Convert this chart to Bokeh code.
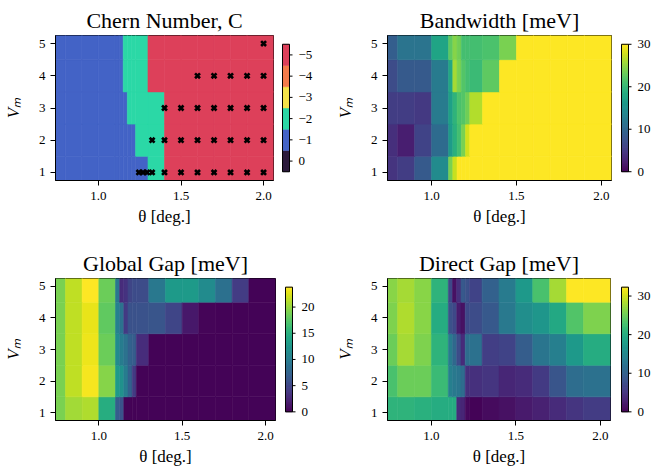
from bokeh.plotting import figure
from bokeh.models import Range1d, FixedTicker, ColumnDataSource, LinearColorMapper, PrintfTickFormatter
from bokeh.transform import transform
from bokeh.palettes import Viridis256
from bokeh.layouts import row, column
from bokeh.core.properties import value
from bokeh.embed import file_html
from bokeh.resources import INLINE

FONT = "Liberation Serif"

# ---------------- data ----------------
theta_edges = [0.70, 0.80, 0.90, 1.00, 1.10, 1.125, 1.15, 1.175, 1.20, 1.225,
               1.30, 1.40, 1.50, 1.60, 1.70, 1.80, 1.90, 2.10]
V_levels = [1, 2, 3, 4, 5]
x_ticks = [1.0, 1.5, 2.0]
y_ticks = [1, 2, 3, 4, 5]

chern_C = [
    [-1, -1, -1, -1, -1, -1, -1, -1, -1, -1, -2, -5, -5, -5, -5, -5, -5],
    [-1, -1, -1, -1, -1, -1, -1, -1, -1, -2, -2, -5, -5, -5, -5, -5, -5],
    [-1, -1, -1, -1, -1, -1, -1, -2, -2, -2, -2, -5, -5, -5, -5, -5, -5],
    [-1, -1, -1, -1, -1, -1, -2, -2, -2, -2, -5, -5, -5, -5, -5, -5, -5],
    [-1, -1, -1, -1, -1, -1, -2, -2, -2, -2, -5, -5, -5, -5, -5, -5, -5],
]
chern_levels = [0, -1, -2, -3, -4, -5]
chern_colors = ["#2b1a3b", "#4363c6", "#2bd8a6", "#f4e34a", "#f47b4b", "#dd405a"]

marker_theta = [1.245, 1.27, 1.295, 1.325, 1.4, 1.5, 1.6, 1.7, 1.8, 1.9, 2.0,
                1.325, 1.4, 1.5, 1.6, 1.7, 1.8, 1.9, 2.0,
                1.4, 1.5, 1.6, 1.7, 1.8, 1.9, 2.0,
                1.6, 1.7, 1.8, 1.9, 2.0,
                2.0]
marker_V = [1, 1, 1, 1, 1, 1, 1, 1, 1, 1, 1,
            2, 2, 2, 2, 2, 2, 2, 2,
            3, 3, 3, 3, 3, 3, 3,
            4, 4, 4, 4, 4,
            5]

bandwidth = [
    [4.5, 5.5, 8.5, 14.5, 24.0, 27.5, 30, 30, 30, 30, 30, 30, 30, 30, 30, 30, 30],
    [4.0, 2.5, 6.0, 10.5, 16.5, 19.0, 21.0, 24.0, 28.0, 30, 30, 30, 30, 30, 30, 30, 30],
    [5.5, 5.5, 5.0, 12.5, 17.0, 19.5, 21.5, 22.0, 23.5, 26.5, 30, 30, 30, 30, 30, 30, 30],
    [7.0, 8.5, 8.5, 12.5, 18.0, 26.0, 24.0, 22.0, 21.0, 20.5, 22.5, 30, 30, 30, 30, 30, 30],
    [9.0, 11.5, 11.5, 17.5, 22.5, 24.5, 23.5, 21.0, 21.0, 21.0, 21.5, 24.0, 30, 30, 30, 30, 30],
]
bandwidth_max = 30
bandwidth_ticks = [0, 10, 20, 30]

global_gap = [
    [19.0, 20.5, 21.0, 14.8, 7.0, 6.0, 0.2, 0.2, 0.2, 0.2, 0.2, 0.2, 0.2, 0.2, 0.2, 0.2, 0.2],
    [19.0, 21.5, 23.5, 19.5, 13.0, 12.0, 10.0, 7.5, 4.0, 0.2, 0.2, 0.2, 0.2, 0.2, 0.2, 0.2, 0.2],
    [19.0, 21.5, 23.2, 18.5, 11.5, 10.0, 9.0, 7.5, 7.0, 3.0, 0.2, 0.2, 0.2, 0.2, 0.2, 0.2, 0.2],
    [19.0, 21.5, 23.0, 18.0, 10.5, 9.0, 4.0, 6.0, 6.0, 6.0, 6.3, 5.0, 1.5, 0.3, 0.2, 0.2, 0.2],
    [19.0, 21.5, 23.8, 18.5, 9.5, 3.0, 3.5, 5.0, 5.5, 5.5, 9.5, 13.0, 13.0, 11.5, 8.8, 4.2, 0.2],
]
global_ticks = [0, 5, 10, 15, 20]

direct_gap = [
    [21.0, 21.0, 20.5, 20.0, 20.0, 20.0, 4.0, 3.5, 0.8, 0.3, 1.0, 1.5, 2.3, 3.0, 4.0, 5.0, 5.8],
    [23.0, 25.0, 25.0, 22.0, 14.0, 13.0, 12.5, 11.5, 4.5, 4.5, 5.0, 3.5, 4.0, 5.5, 8.5, 11.5, 12.0],
    [25.0, 28.0, 26.0, 21.0, 13.5, 11.0, 7.5, 4.0, 11.5, 12.0, 6.0, 6.5, 9.5, 12.5, 14.0, 17.5, 20.0],
    [26.0, 28.5, 26.5, 20.0, 8.0, 7.0, 2.5, 1.5, 7.0, 7.5, 9.0, 13.0, 16.0, 17.0, 19.5, 23.5, 26.0],
    [26.5, 28.0, 26.5, 21.0, 7.0, 1.5, 4.5, 9.0, 8.0, 6.5, 10.0, 13.5, 17.5, 23.0, 28.0, 32.3, 32.3],
]
direct_ticks = [0, 10, 20, 30]


# ---------------- helpers ----------------
def cells(vals):
    L, R, B, T, Z = [], [], [], [], []
    for i, v in enumerate(V_levels):
        for j in range(len(theta_edges) - 1):
            L.append(theta_edges[j]); R.append(theta_edges[j + 1])
            B.append(v - 0.5); T.append(v + 0.5); Z.append(vals[i][j])
    return ColumnDataSource(dict(left=L, right=R, bottom=B, top=T, z=Z))


def heat_fig(title, w, h, bl, br, bt, bb):
    p = figure(width=w, height=h, x_range=Range1d(0.74, 2.06), y_range=Range1d(0.75, 5.25),
               output_backend="svg", toolbar_location=None,
               min_border_left=bl, min_border_right=br, min_border_top=bt, min_border_bottom=bb)
    p.title.text = title
    p.title.text_font = FONT
    p.title.text_font_size = "22px"
    p.title.text_font_style = "normal"
    p.title.text_color = "black"
    p.title.align = "center"
    p.title.standoff = 6
    p.grid.visible = False
    p.outline_line_color = "black"
    p.outline_line_alpha = 1.0
    p.outline_line_width = 1
    p.xaxis.ticker = FixedTicker(ticks=x_ticks)
    p.xaxis.formatter = PrintfTickFormatter(format="%.1f")
    p.yaxis.ticker = FixedTicker(ticks=y_ticks)
    p.xaxis.axis_label = "θ [deg.]"
    p.yaxis.axis_label = "Vₘ"
    for ax in (p.xaxis[0], p.yaxis[0]):
        ax.axis_line_color = "black"
        ax.major_tick_line_color = "black"
        ax.major_tick_out = 5
        ax.major_tick_in = 0
        ax.minor_tick_line_color = None
        ax.major_label_text_font = FONT
        ax.major_label_text_font_size = "13px"
        ax.major_label_text_color = "black"
        ax.major_label_standoff = 5
        ax.axis_label_text_font = FONT
        ax.axis_label_text_font_size = "17px"
        ax.axis_label_text_font_style = "normal"
        ax.axis_label_text_color = "black"
    p.xaxis.major_label_standoff = 6
    p.xaxis.axis_label_standoff = 4
    p.yaxis.axis_label_standoff = 13
    p.yaxis.axis_label_text_font_style = "italic"
    return p


def cbar_fig(w, h, bt, bb, off, bottom_val, top_val, seg_b, seg_t, seg_c, ticks, labels):
    pad = 10
    bar_px = h - bt - bb
    u = (top_val - bottom_val) / bar_px
    p = figure(width=w, height=h, output_backend="svg", toolbar_location=None,
               x_range=Range1d(-off / 7.0, (w - off) / 7.0),
               y_range=Range1d(bottom_val - pad * u, top_val + pad * u),
               x_axis_location=None, y_axis_location=None,
               min_border_left=0, min_border_right=0,
               min_border_top=bt - pad, min_border_bottom=bb - pad)
    p.grid.visible = False
    p.outline_line_color = None
    src = ColumnDataSource(dict(b=seg_b, t=seg_t, c=seg_c))
    p.quad(left=0, right=1, bottom="b", top="t", fill_color="c", line_color="c",
           line_width=0.5, source=src)
    p.quad(left=0, right=1, bottom=bottom_val, top=top_val, fill_color=None,
           line_color="black", line_width=1)
    p.segment(x0=1, x1=1 + 3 / 7.0, y0=ticks, y1=ticks, line_color="black", line_width=1)
    p.text(x=[1 + 9 / 7.0] * len(ticks), y=ticks, text=labels,
           text_font=value(FONT), text_font_size=value("13px"), text_color="black",
           text_baseline="middle", text_align="left")
    return p


def viridis_segments(vmax):
    n = len(Viridis256)
    b = [vmax * i / n for i in range(n)]
    t = [vmax * (i + 1) / n for i in range(n)]
    return b, t, list(Viridis256)


def num_labels(ticks):
    return [str(t).replace("-", "\u2212") for t in ticks]


# ---------------- layout geometry ----------------
TOP_H, BOT_H = 236, 232
TOP_BT, TOP_BB = 35, 56
BOT_BT, BOT_BB = 42, 46

# Chern
p1 = heat_fig("Chern Number, C", 281, TOP_H, 51, 8, TOP_BT, TOP_BB)
chern_mapper = LinearColorMapper(palette=list(reversed(chern_colors)),
                                 low=min(chern_levels) - 0.5, high=max(chern_levels) + 0.5)
p1.quad(left="left", right="right", bottom="bottom", top="top", source=cells(chern_C),
        fill_color=transform("z", chern_mapper), line_color=transform("z", chern_mapper),
        line_width=0.6)
p1.scatter(x=marker_theta, y=marker_V, marker="x", size=7, line_width=2.6, line_color="black")
cb1 = cbar_fig(49, TOP_H, TOP_BT, TOP_BB, 1, max(chern_levels) + 0.5, min(chern_levels) - 0.5,
               [c - 0.5 for c in chern_levels], [c + 0.5 for c in chern_levels], chern_colors,
               chern_levels, num_labels(chern_levels))

# Bandwidth
p2 = heat_fig("Bandwidth [meV]", 290, TOP_H, 57, 9, TOP_BT, TOP_BB)
bw_mapper = LinearColorMapper(palette=Viridis256, low=0, high=bandwidth_max)
p2.quad(left="left", right="right", bottom="bottom", top="top", source=cells(bandwidth),
        fill_color=transform("z", bw_mapper), line_color=transform("z", bw_mapper), line_width=0.6)
b, t, c = viridis_segments(bandwidth_max)
cb2 = cbar_fig(35, TOP_H, TOP_BT, TOP_BB, 1, 0, bandwidth_max, b, t, c,
               bandwidth_ticks, num_labels(bandwidth_ticks))

# Global gap
gmax = max(max(r) for r in global_gap)
p3 = heat_fig("Global Gap [meV]", 284, BOT_H, 52, 9, BOT_BT, BOT_BB)
gg_mapper = LinearColorMapper(palette=Viridis256, low=0, high=gmax)
p3.quad(left="left", right="right", bottom="bottom", top="top", source=cells(global_gap),
        fill_color=transform("z", gg_mapper), line_color=transform("z", gg_mapper), line_width=0.6)
b, t, c = viridis_segments(gmax)
cb3 = cbar_fig(46, BOT_H, BOT_BT, BOT_BB, 1, 0, gmax, b, t, c, global_ticks, num_labels(global_ticks))

# Direct gap
dmax = max(max(r) for r in direct_gap)
p4 = heat_fig("Direct Gap [meV]", 290, BOT_H, 57, 10, BOT_BT, BOT_BB)
dg_mapper = LinearColorMapper(palette=Viridis256, low=0, high=dmax)
p4.quad(left="left", right="right", bottom="bottom", top="top", source=cells(direct_gap),
        fill_color=transform("z", dg_mapper), line_color=transform("z", dg_mapper), line_width=0.6)
b, t, c = viridis_segments(dmax)
cb4 = cbar_fig(35, BOT_H, BOT_BT, BOT_BB, 1, 0, dmax, b, t, c, direct_ticks, num_labels(direct_ticks))

layout = column(row(p1, cb1, p2, cb2), row(p3, cb3, p4, cb4))

with open("out.html", "w") as f:
    f.write(file_html(layout, INLINE))
